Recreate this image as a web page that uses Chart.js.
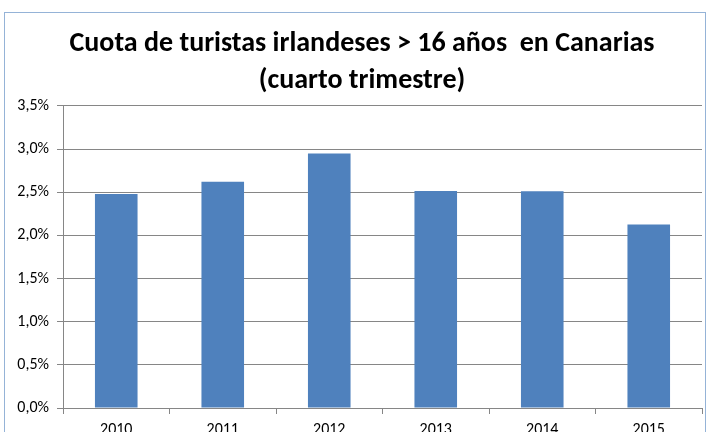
<!DOCTYPE html>
<html>
<head>
<meta charset="utf-8">
<script src="https://cdn.jsdelivr.net/npm/chart.js@4"></script>
<style>
  html, body { margin: 0; padding: 0; background: #fff; overflow: hidden; }
  #wrap { position: absolute; left: 0; top: 0; width: 708px; height: 432px; }
  #frame { position: absolute; left: 4px; top: 12px; width: 702px; height: 440px;
           border: 1px solid #95b3d7; box-sizing: border-box; pointer-events: none; }
</style>
</head>
<body>
<div id="wrap"><canvas id="myChart" width="708" height="432"></canvas></div>
<div id="frame"></div>
<script>
// datos
const years = ['2010', '2011', '2012', '2013', '2014', '2015'];
const cuota = [2.48, 2.62, 2.95, 2.515, 2.51, 2.125];
const titleLines = ['Cuota de turistas irlandeses > 16 años  en Canarias', '(cuarto trimestre)'];

const fontFam = 'Carlito, Calibri, "Liberation Sans Narrow", "Open Sans", sans-serif';

// el título del original está algo desplazado a la derecha
const shiftTitle = {
    id: 'shiftTitle',
    afterLayout(chart) {
        const t = chart.titleBlock;
        if (t) { t.left += 11; t.right += 11; }
    }
};

const ctx = document.getElementById('myChart');

new Chart(ctx, {
    type: 'bar',
    data: {
        labels: years,
        datasets: [{
            data: cuota,
            backgroundColor: '#4f81bd',
            borderWidth: 0,
            barPercentage: 0.4,
            categoryPercentage: 1
        }]
    },
    options: {
        responsive: false,
        animation: false,
        layout: {
            padding: { left: 0, right: 6, top: 0, bottom: 0 }
        },
        plugins: {
            legend: { display: false },
            tooltip: { enabled: false },
            title: {
                display: true,
                text: titleLines,
                color: '#000',
                font: { family: fontFam, size: 28, weight: 'bold', lineHeight: 1.32 },
                padding: { top: 26, bottom: 6 }
            }
        },
        scales: {
            x: {
                grid: { drawOnChartArea: false, drawTicks: true, tickLength: 6, color: '#868686' },
                border: { color: '#868686' },
                ticks: { color: '#000', font: { family: fontFam, size: 16 }, padding: 6 },
                afterFit: function (scale) { scale.height = 24; }
            },
            y: {
                min: 0,
                max: 3.5,
                ticks: {
                    stepSize: 0.5,
                    color: '#000',
                    padding: 8,
                    font: { family: fontFam, size: 16 },
                    callback: function (v) { return v.toFixed(1).replace('.', ',') + '%'; }
                },
                grid: { color: '#868686', tickLength: 6 },
                border: { color: '#868686' },
                afterFit: function (scale) { scale.width = 63; }
            }
        }
    },
    plugins: [shiftTitle]
});
</script>
</body>
</html>
